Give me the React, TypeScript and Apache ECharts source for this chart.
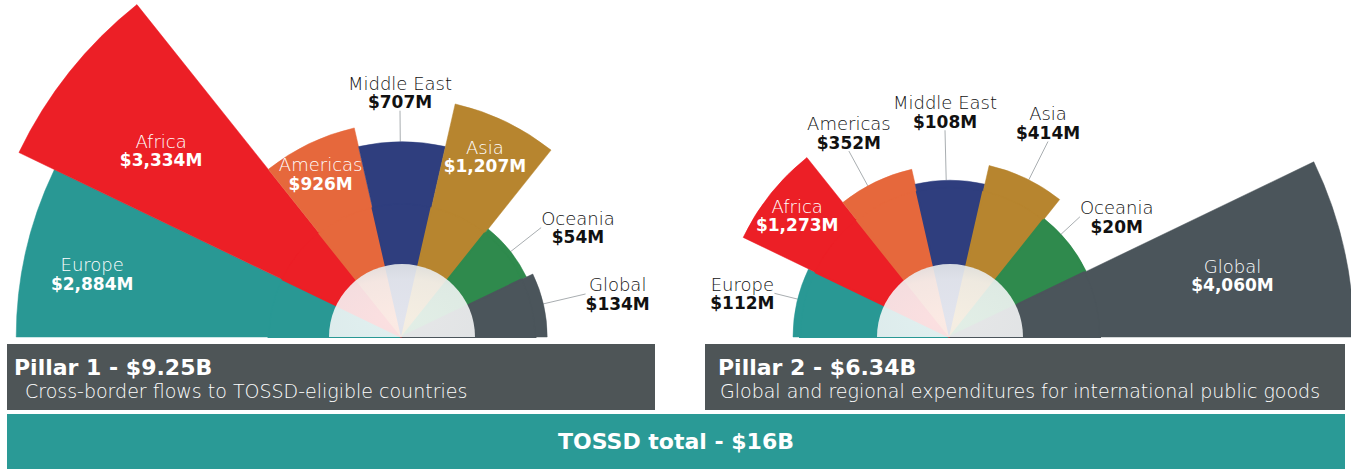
import React, { useEffect, useRef } from 'react';
import * as echarts from 'echarts';

// ---------- data ----------
const CATEGORIES = ['Europe', 'Africa', 'Americas', 'Middle East', 'Asia', 'Oceania', 'Global'];
const PILLAR1_VALUES = [2884, 3334, 926, 707, 1207, 54, 134];
const PILLAR2_VALUES = [112, 1273, 352, 108, 414, 20, 4060];
const PILLAR_TITLES = ['Pillar 1 - $9.25B', 'Pillar 2 - $6.34B'];
const PILLAR_SUBTITLES = [
  'Cross-border flows to TOSSD-eligible countries',
  'Global and regional expenditures for international public goods',
];
const TOTAL_TITLE = 'TOSSD total - $16B';

// ---------- styles / layout ----------
const COLORS = ['#299894', '#ec1f26', '#e6683c', '#2f3e7e', '#b7852f', '#2f8a4d', '#4b555b'];
const FONT = "'DejaVu Sans', sans-serif";
const BOX_COLOR = '#4e5557';
const TEAL = '#2a9a96';

type LabelCfg = { inside: boolean; distance: number; offset: [number, number] };

const P1_LABELS: LabelCfg[] = [
  { inside: true, distance: 68, offset: [0, 8] },
  { inside: true, distance: 117, offset: [0, 6] },
  { inside: true, distance: 27, offset: [0, 6] },
  { inside: false, distance: 49, offset: [-2, 0] },
  { inside: true, distance: 48, offset: [0, -8] },
  { inside: false, distance: 69, offset: [14, 20] },
  { inside: false, distance: 74, offset: [2, 6] },
];
const P2_LABELS: LabelCfg[] = [
  { inside: false, distance: 56, offset: [0, 4] },
  { inside: true, distance: 38, offset: [-3, -2] },
  { inside: false, distance: 61, offset: [0, 6] },
  { inside: false, distance: 68, offset: [-5, 0] },
  { inside: false, distance: 50, offset: [0, -10] },
  { inside: false, distance: 62, offset: [0, 13] },
  { inside: true, distance: 114, offset: [0, 3] },
];

const CHARTS = [
  { center: [402, 337], outer: 437.5, axisMax: 5000, hub: 1525, labels: P1_LABELS, values: PILLAR1_VALUES },
  { center: [950, 337], outer: 500, axisMax: 8000, hub: 2400, labels: P2_LABELS, values: PILLAR2_VALUES },
];
const INNER_R = 73;

const fmt = (v: number) => '$' + v.toLocaleString('en-US') + 'M';

function buildSeries(ci: number) {
  const ch = CHARTS[ci];
  const stack = 'stack' + ci;
  const hubSeries = {
    type: 'bar',
    coordinateSystem: 'polar',
    polarIndex: ci,
    stack,
    barCategoryGap: '0%',
    silent: true,
    z: 2,
    data: CATEGORIES.map((_, i) => ({
      value: ch.hub,
      itemStyle: { color: COLORS[i], borderColor: COLORS[i], borderWidth: 2 },
    })),
    label: { show: false },
  };
  const valueSeries = {
    type: 'bar',
    coordinateSystem: 'polar',
    polarIndex: ci,
    stack,
    barCategoryGap: '0%',
    silent: true,
    z: 2,
    data: ch.values.map((v, i) => {
      const c = ch.labels[i];
      const nameColor = c.inside ? '#ffffff' : '#111111';
      const valColor = c.inside ? '#ffffff' : '#111111';
      return {
        value: v,
        itemStyle: { color: COLORS[i], borderColor: COLORS[i], borderWidth: 0.5 },
        label: {
          show: true,
          position: c.inside ? 'insideEnd' : 'end',
          distance: c.distance,
          offset: c.offset,
          rotate: 0,
          align: 'center',
          verticalAlign: 'middle',
          formatter: `{n|${CATEGORIES[i]}}\n{v|${fmt(v)}}`,
          rich: {
            n: { fontSize: 18, fontWeight: 200, fontFamily: FONT, color: nameColor, lineHeight: 19, align: 'center' },
            v: { fontSize: 17, fontWeight: 'bold', fontFamily: FONT, color: valColor, lineHeight: 19, align: 'center' },
          },
        },
        labelLine: { show: !c.inside, lineStyle: { color: '#a9aeb1', width: 1 } },
      };
    }),
  };
  return [hubSeries, valueSeries];
}

export default function App() {
  const ref = useRef<HTMLDivElement>(null);
  useEffect(() => {
    document.body.style.margin = '0';
    document.body.style.background = '#ffffff';
    const chart = echarts.init(ref.current!, null, { renderer: 'svg' });
    const innerFill = {
      type: 'radial',
      x: 0.5,
      y: 0.75,
      r: 0.9,
      colorStops: [
        { offset: 0, color: 'rgba(255,255,255,0.86)' },
        { offset: 0.6, color: 'rgba(246,247,248,0.88)' },
        { offset: 1, color: 'rgba(214,219,222,0.95)' },
      ],
    };
    const option: any = {
      animation: false,
      backgroundColor: '#ffffff',
      polar: CHARTS.map((c) => ({ center: c.center, radius: [0, c.outer] })),
      angleAxis: CHARTS.map((c, i) => ({
        polarIndex: i,
        type: 'category',
        data: CATEGORIES,
        startAngle: 180,
        endAngle: 0,
        clockwise: true,
        show: false,
        axisLine: { show: false },
        axisTick: { show: false },
        axisLabel: { show: false },
        splitLine: { show: false },
      })),
      radiusAxis: CHARTS.map((c, i) => ({
        polarIndex: i,
        type: 'value',
        min: 0,
        max: c.axisMax,
        show: false,
        axisLine: { show: false },
        axisTick: { show: false },
        axisLabel: { show: false },
        splitLine: { show: false },
      })),
      series: [...buildSeries(0), ...buildSeries(1)],
      graphic: [
        ...CHARTS.map((c) => ({
          type: 'sector',
          silent: true,
          z: 100,
          shape: { cx: c.center[0], cy: c.center[1], r: INNER_R, r0: 0, startAngle: Math.PI, endAngle: Math.PI * 2 },
          style: { fill: innerFill },
        })),
        { type: 'rect', z: 100, shape: { x: 7, y: 344, width: 648, height: 66 }, style: { fill: BOX_COLOR } },
        { type: 'rect', z: 100, shape: { x: 705, y: 344, width: 640, height: 66 }, style: { fill: BOX_COLOR } },
        { type: 'rect', z: 100, shape: { x: 7, y: 414, width: 1338, height: 55 }, style: { fill: TEAL } },
        {
          type: 'text', z: 101, x: 14, y: 367,
          style: { text: PILLAR_TITLES[0], fill: '#ffffff', fontSize: 22, fontWeight: 'bold', fontFamily: FONT, verticalAlign: 'middle' },
        },
        {
          type: 'text', z: 101, x: 25, y: 391,
          style: { text: PILLAR_SUBTITLES[0], fill: '#ffffff', fontSize: 19, fontWeight: 200, fontFamily: FONT, verticalAlign: 'middle' },
        },
        {
          type: 'text', z: 101, x: 718, y: 367,
          style: { text: PILLAR_TITLES[1], fill: '#ffffff', fontSize: 22, fontWeight: 'bold', fontFamily: FONT, verticalAlign: 'middle' },
        },
        {
          type: 'text', z: 101, x: 720, y: 391,
          style: { text: PILLAR_SUBTITLES[1], fill: '#ffffff', fontSize: 19, fontWeight: 200, fontFamily: FONT, verticalAlign: 'middle' },
        },
        {
          type: 'text', z: 101, x: 676, y: 441,
          style: { text: TOTAL_TITLE, fill: '#ffffff', fontSize: 22, fontWeight: 'bold', fontFamily: FONT, align: 'center', verticalAlign: 'middle' },
        },
      ],
    };
    chart.setOption(option);
    return () => chart.dispose();
  }, []);
  return <div ref={ref} style={{ width: 1351, height: 469 }} />;
}
